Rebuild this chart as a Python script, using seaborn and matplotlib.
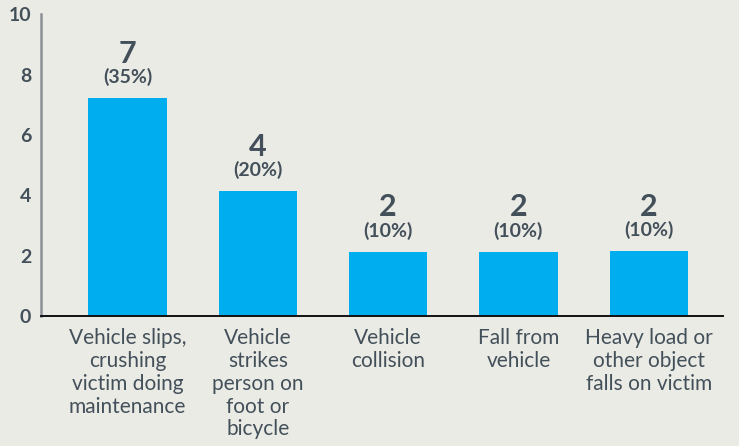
import matplotlib
matplotlib.use("Agg")
import matplotlib.pyplot as plt
import seaborn as sns
import pandas as pd

# data
categories = [
    "Vehicle slips,\ncrushing\nvictim doing\nmaintenance",
    "Vehicle\nstrikes\nperson on\nfoot or\nbicycle",
    "Vehicle\ncollision",
    "Fall from\nvehicle",
    "Heavy load or\nother object\nfalls on victim",
]
bar_heights = [7.22, 4.14, 2.13, 2.13, 2.15]   # drawn heights (slightly above the counts)
counts = [7, 4, 2, 2, 2]
pct_labels = ["(35%)", "(20%)", "(10%)", "(10%)", "(10%)"]

bg = "#ebebe6"
bar_color = "#00aeef"
text_color = "#43505a"

sns.set_theme(style="white")
plt.rcParams["font.family"] = ["Lato", "DejaVu Sans"]

df = pd.DataFrame({"cause": categories, "height": bar_heights})

fig = plt.figure(figsize=(7.39, 4.46), dpi=100, facecolor=bg)
ax = fig.add_axes([41 / 739, 1 - 316 / 446, (723 - 41) / 739, (316 - 14.3) / 446])
ax.set_facecolor(bg)

sns.barplot(data=df, x="cause", y="height", color=bar_color, width=0.6,
            saturation=1, linewidth=0, ax=ax)

ax.set_xlim(-0.664, 4.57)
ax.set_ylim(0, 10)
ax.set_yticks([0, 2, 4, 6, 8, 10])
ax.set_xlabel("")
ax.set_ylabel("")

for s in ["top", "right"]:
    ax.spines[s].set_visible(False)
ax.spines["left"].set_color("#8c9196")
ax.spines["left"].set_linewidth(1.8)
ax.spines["bottom"].set_color("#111111")
ax.spines["bottom"].set_linewidth(1.4)

ax.tick_params(axis="y", direction="in", length=10, width=1.6, color="#8c9196",
               labelsize=14, labelcolor=text_color, pad=7)
for lab in ax.get_yticklabels():
    lab.set_fontweight("bold")
ax.tick_params(axis="x", length=0, labelsize=15, labelcolor=text_color, pad=9)
for lab in ax.get_xticklabels():
    lab.set_linespacing(1.17)

for i, (h, c, p) in enumerate(zip(bar_heights, counts, pct_labels)):
    ax.annotate(str(c), (i, h), xytext=(0, 32), textcoords="offset points",
                ha="center", va="center", fontsize=22, fontweight="bold",
                color=text_color)
    ax.annotate(p, (i, h), xytext=(0, 15), textcoords="offset points",
                ha="center", va="center", fontsize=14, fontweight="bold",
                color=text_color)

fig.savefig("out.png", dpi=100, facecolor=bg)
